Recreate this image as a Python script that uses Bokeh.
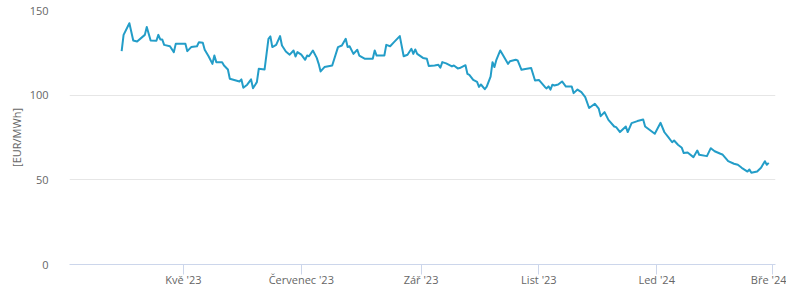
import pandas as pd
from bokeh.plotting import figure
from bokeh.models import Range1d, FixedTicker, ColumnDataSource
from bokeh.embed import file_html
from bokeh.resources import INLINE

dates = [
    "2023-03-30", "2023-03-31", "2023-04-03", "2023-04-05", "2023-04-07", "2023-04-11",
    "2023-04-12", "2023-04-14", "2023-04-17", "2023-04-18", "2023-04-19", "2023-04-20",
    "2023-04-21", "2023-04-24", "2023-04-26", "2023-04-27", "2023-05-02", "2023-05-03",
    "2023-05-05", "2023-05-08", "2023-05-09", "2023-05-11", "2023-05-12", "2023-05-14",
    "2023-05-16", "2023-05-17", "2023-05-18", "2023-05-21", "2023-05-22", "2023-05-24",
    "2023-05-25", "2023-05-30", "2023-05-31", "2023-06-01", "2023-06-03", "2023-06-05",
    "2023-06-06", "2023-06-08", "2023-06-09", "2023-06-12", "2023-06-14", "2023-06-15",
    "2023-06-16", "2023-06-18", "2023-06-20", "2023-06-21", "2023-06-23", "2023-06-25",
    "2023-06-27", "2023-06-28", "2023-06-29", "2023-07-01", "2023-07-03", "2023-07-04",
    "2023-07-05", "2023-07-07", "2023-07-09", "2023-07-10", "2023-07-11", "2023-07-13",
    "2023-07-17", "2023-07-20", "2023-07-22", "2023-07-24", "2023-07-25", "2023-07-26",
    "2023-07-28", "2023-07-30", "2023-07-31", "2023-08-03", "2023-08-07", "2023-08-08",
    "2023-08-09", "2023-08-13", "2023-08-14", "2023-08-16", "2023-08-18", "2023-08-21",
    "2023-08-23", "2023-08-25", "2023-08-27", "2023-08-28", "2023-08-29", "2023-08-30",
    "2023-09-02", "2023-09-04", "2023-09-05", "2023-09-08", "2023-09-10", "2023-09-11",
    "2023-09-12", "2023-09-14", "2023-09-17", "2023-09-18", "2023-09-20", "2023-09-21",
    "2023-09-24", "2023-09-25", "2023-09-26", "2023-09-28", "2023-09-30", "2023-10-01",
    "2023-10-02", "2023-10-04", "2023-10-05", "2023-10-07", "2023-10-08", "2023-10-09",
    "2023-10-10", "2023-10-12", "2023-10-13", "2023-10-16", "2023-10-17", "2023-10-20",
    "2023-10-21", "2023-10-23", "2023-10-25", "2023-10-28", "2023-10-30", "2023-11-01",
    "2023-11-04", "2023-11-05", "2023-11-06", "2023-11-07", "2023-11-08", "2023-11-09",
    "2023-11-11", "2023-11-13", "2023-11-15", "2023-11-18", "2023-11-19", "2023-11-21",
    "2023-11-23", "2023-11-25", "2023-11-27", "2023-11-30", "2023-12-02", "2023-12-03",
    "2023-12-05", "2023-12-07", "2023-12-10", "2023-12-11", "2023-12-13", "2023-12-16",
    "2023-12-17", "2023-12-19", "2023-12-22", "2023-12-25", "2023-12-26", "2023-12-31",
    "2024-01-03", "2024-01-05", "2024-01-07", "2024-01-09", "2024-01-10", "2024-01-12",
    "2024-01-14", "2024-01-15", "2024-01-17", "2024-01-20", "2024-01-22", "2024-01-23",
    "2024-01-27", "2024-01-29", "2024-01-31", "2024-02-03", "2024-02-04", "2024-02-07",
    "2024-02-10", "2024-02-12", "2024-02-14", "2024-02-17", "2024-02-18", "2024-02-19",
    "2024-02-22", "2024-02-24", "2024-02-26", "2024-02-27", "2024-02-28",
]

prices = [
    126.0, 135.6, 142.5, 132.3, 131.7, 135.6,
    140.2, 132.3, 132.1, 135.6, 132.9, 132.9,
    129.7, 128.9, 125.4, 130.3, 130.3, 126.0,
    128.4, 128.9, 131.3, 130.9, 126.8, 123.0,
    118.5, 123.4, 119.5, 119.5, 117.5, 115.2,
    109.7, 108.1, 109.3, 104.4, 106.2, 109.3,
    104.1, 107.7, 115.6, 115.2, 133.3, 134.7,
    128.4, 129.7, 134.9, 129.3, 125.8, 123.9,
    126.4, 122.8, 125.4, 123.9, 120.9, 123.4,
    123.0, 126.4, 122.0, 118.5, 114.0, 116.6,
    117.5, 128.4, 129.3, 133.3, 128.4, 128.9,
    124.4, 126.8, 123.4, 121.5, 121.5, 126.4,
    123.4, 123.4, 129.7, 128.9, 131.3, 134.9,
    123.0, 123.9, 127.4, 124.4, 127.0, 124.4,
    122.0, 121.5, 117.2, 117.5, 117.9, 116.2,
    119.5, 118.8, 117.0, 117.5, 115.8, 116.0,
    117.7, 112.6, 112.0, 109.0, 107.8, 104.9,
    106.3, 103.5, 105.0, 111.0, 119.5, 116.6,
    120.9, 126.4, 124.4, 118.5, 120.0, 120.9,
    120.5, 115.0, 115.5, 116.0, 108.7, 109.0,
    105.0, 104.0, 105.2, 103.3, 106.2, 105.7,
    106.3, 108.1, 105.1, 105.1, 101.2, 103.3,
    101.8, 98.8, 92.4, 94.9, 92.0, 87.6,
    90.0, 85.4, 81.5, 81.1, 78.2, 81.5,
    78.2, 83.5, 84.7, 85.6, 81.5, 77.2,
    83.7, 78.1, 75.2, 72.2, 73.2, 70.7,
    68.9, 65.8, 66.1, 63.4, 67.3, 64.8,
    64.0, 68.7, 66.9, 65.4, 65.0, 61.0,
    59.5, 58.9, 57.1, 54.9, 56.1, 54.2,
    54.9, 57.1, 61.0, 58.9, 60.0,
]

tick_dates = ["2023-05-01", "2023-07-01", "2023-09-01", "2023-11-01", "2024-01-01", "2024-03-01"]
tick_labels = ["Kvě '23", "Červenec '23", "Zář '23", "List '23", "Led '24", "Bře '24"]
y_ticks = [0, 50, 100, 150]
y_title = "[EUR/MWh]"

FONT = "Open Sans"
TXT = "#666666"

source = ColumnDataSource(data=dict(x=pd.to_datetime(dates), y=prices))

p = figure(
    width=786, height=295,
    x_axis_type="datetime",
    output_backend="svg",
    toolbar_location=None,
    min_border_left=69, min_border_right=11,
    min_border_top=10, min_border_bottom=31,
    x_range=Range1d(pd.Timestamp("2023-03-03"), pd.Timestamp("2024-03-02 12:00")),
    y_range=Range1d(0, 150),
)
p.outline_line_color = None
p.background_fill_color = "white"
p.border_fill_color = "white"

p.line("x", "y", source=source, line_color="#239dc8", line_width=2, line_join="round")

# x axis
tick_ms = [pd.Timestamp(d).value / 1e6 for d in tick_dates]
p.xaxis.ticker = FixedTicker(ticks=tick_ms)
p.xaxis.major_label_overrides = {t: lab for t, lab in zip(tick_ms, tick_labels)}
p.xaxis.axis_line_color = "#ccd6eb"
p.xaxis.major_tick_line_color = "#ccd6eb"
p.xaxis.major_tick_out = 10
p.xaxis.major_tick_in = 0
p.xaxis.minor_tick_line_color = None
p.xaxis.major_label_text_font = FONT
p.xaxis.major_label_text_font_size = "11px"
p.xaxis.major_label_text_color = TXT
p.xaxis.major_label_standoff = -3
p.xgrid.grid_line_color = None

# y axis
p.yaxis.ticker = FixedTicker(ticks=y_ticks)
p.yaxis.axis_line_color = None
p.yaxis.major_tick_line_color = None
p.yaxis.minor_tick_line_color = None
p.yaxis.major_label_text_font = FONT
p.yaxis.major_label_text_font_size = "11px"
p.yaxis.major_label_text_color = TXT
p.yaxis.major_label_standoff = 15
p.yaxis.axis_label = y_title
p.yaxis.axis_label_text_font = FONT
p.yaxis.axis_label_text_font_size = "11px"
p.yaxis.axis_label_text_font_style = "normal"
p.yaxis.axis_label_text_color = TXT
p.yaxis.axis_label_standoff = 3
p.ygrid.grid_line_color = "#e6e6e6"
p.ygrid.grid_line_width = 1

open("out.html", "w").write(file_html(p, INLINE))
